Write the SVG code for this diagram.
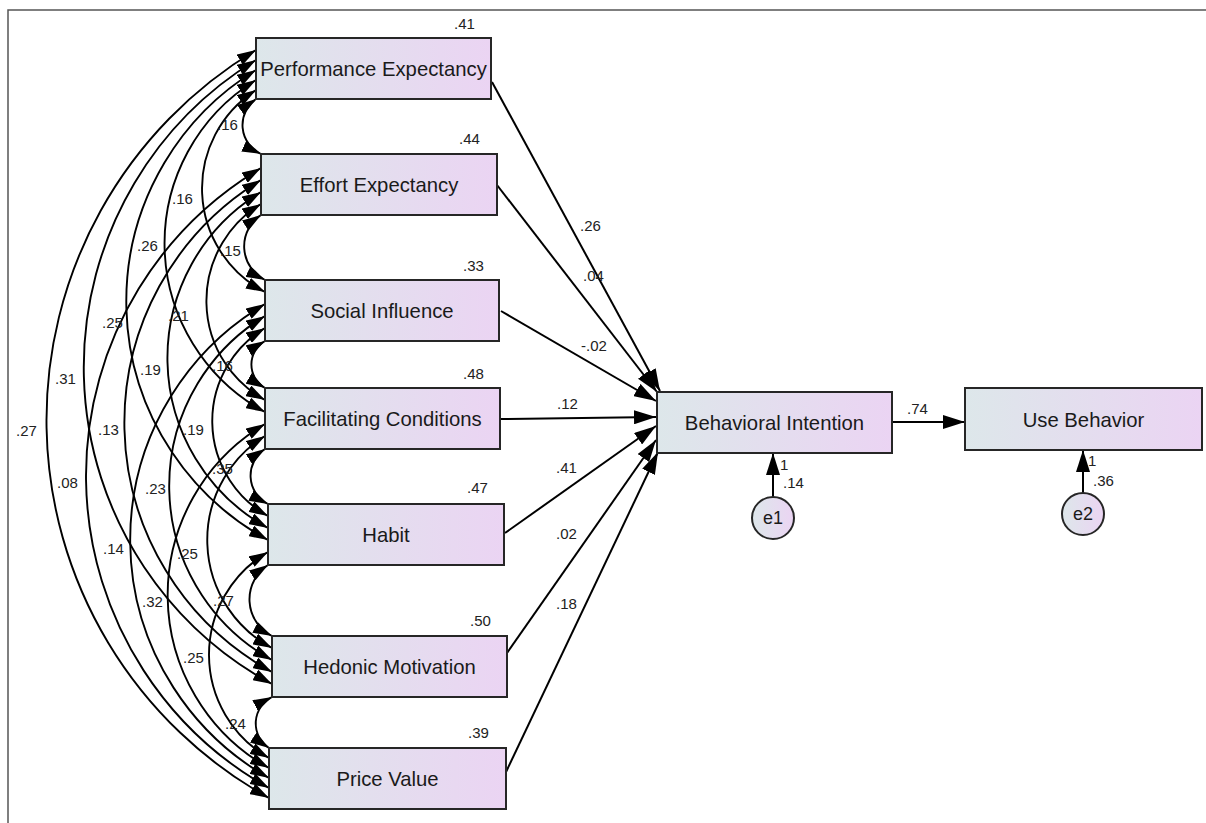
<svg xmlns="http://www.w3.org/2000/svg" width="1206" height="823" viewBox="0 0 1206 823">
<defs>
<linearGradient id="g" x1="0" y1="0" x2="1" y2="0">
<stop offset="0" stop-color="#dde7ea"/>
<stop offset="1" stop-color="#ebd4f3"/>
</linearGradient>
<marker id="ah" viewBox="0 0 22 14" markerWidth="22" markerHeight="14" refX="22" refY="7" orient="auto-start-reverse" markerUnits="userSpaceOnUse">
<path d="M0,0 L22,7 L0,14 z" fill="#000"/>
</marker>
<marker id="ac" viewBox="0 0 19 12" markerWidth="19" markerHeight="12" refX="19" refY="6" orient="auto-start-reverse" markerUnits="userSpaceOnUse">
<path d="M0,0 L19,6 L0,12 z" fill="#000"/>
</marker>
<style>
.box{fill:url(#g);stroke:#262626;stroke-width:2}
.lbl{font-family:"Liberation Sans",Arial,sans-serif;font-size:20.3px;fill:#1a1a1a;text-anchor:middle}
.num{font-family:"Liberation Sans",Arial,sans-serif;font-size:15px;fill:#222}
.cov{fill:none;stroke:#000;stroke-width:1.9;marker-start:url(#ac);marker-end:url(#ac)}
.path{fill:none;stroke:#000;stroke-width:2;marker-end:url(#ah)}
</style>
</defs>
<rect width="1206" height="823" fill="#fff"/>
<path d="M8,823 L8,10 L1206,10" fill="none" stroke="#555" stroke-width="1.5"/>

<g id="connectors">
<path class="cov" d="M256,99 A31.9,31.9 0 0 0 261,154"/>
<path class="cov" d="M256,90 A116.7,116.7 0 0 0 265,292"/>
<path class="cov" d="M256,80 A191.7,191.7 0 0 0 265,412"/>
<path class="cov" d="M256,70 A271.5,271.5 0 0 0 268,540"/>
<path class="cov" d="M256,60 A360.4,360.4 0 0 0 272,684"/>
<path class="cov" d="M256,50 A431.9,431.9 0 0 0 269,798"/>
<path class="cov" d="M261,215 A37.6,37.6 0 0 0 265,280"/>
<path class="cov" d="M261,204 A113.2,113.2 0 0 0 265,400"/>
<path class="cov" d="M261,192 A194,194 0 0 0 268,528"/>
<path class="cov" d="M261,180 A284.1,284.1 0 0 0 272,672"/>
<path class="cov" d="M261,168 A358,358 0 0 0 269,788"/>
<path class="cov" d="M265,341 A27.1,27.1 0 0 0 265,388"/>
<path class="cov" d="M265,328 A108.6,108.6 0 0 0 268,516"/>
<path class="cov" d="M265,316 A198.7,198.7 0 0 0 272,660"/>
<path class="cov" d="M265,304 A273.7,273.7 0 0 0 269,778"/>
<path class="cov" d="M265,449 A31.8,31.8 0 0 0 268,504"/>
<path class="cov" d="M265,436 A122.5,122.5 0 0 0 272,648"/>
<path class="cov" d="M265,424 A198.6,198.6 0 0 0 269,768"/>
<path class="cov" d="M268,565 A41.1,41.1 0 0 0 272,636"/>
<path class="cov" d="M268,552 A118.9,118.9 0 0 0 269,758"/>
<path class="cov" d="M272,697 A29.5,29.5 0 0 0 269,748"/>

<path class="path" d="M492,82 L660,391"/>
<path class="path" d="M497,185 L657,392"/>
<path class="path" d="M501,311 L656,401"/>
<path class="path" d="M501,419 L656,417"/>
<path class="path" d="M505,533 L656,426"/>
<path class="path" d="M507,653 L656,440"/>
<path class="path" d="M506,772 L658,452"/>
<path class="path" d="M892,422 L965,422"/>
<path class="path" d="M773,497 L773,453"/>
<path class="path" d="M1083,493 L1083,450"/>

<text class="num" x="217" y="130">.16</text>
<text class="num" x="172" y="204">.16</text>
<text class="num" x="137" y="251">.26</text>
<text class="num" x="220" y="256">.15</text>
<text class="num" x="102" y="328">.25</text>
<text class="num" x="168" y="321">.21</text>
<text class="num" x="55" y="384">.31</text>
<text class="num" x="140" y="375">.19</text>
<text class="num" x="212" y="371">.16</text>
<text class="num" x="16" y="436">.27</text>
<text class="num" x="98" y="435">.13</text>
<text class="num" x="183" y="435">.19</text>
<text class="num" x="212" y="474">.35</text>
<text class="num" x="57" y="488">.08</text>
<text class="num" x="145" y="494">.23</text>
<text class="num" x="103" y="554">.14</text>
<text class="num" x="177" y="559">.25</text>
<text class="num" x="142" y="607">.32</text>
<text class="num" x="213" y="606">.27</text>
<text class="num" x="183" y="663">.25</text>
<text class="num" x="225" y="729">.24</text>

<text class="num" x="580" y="231">.26</text>
<text class="num" x="583" y="281">.04</text>
<text class="num" x="581" y="351">-.02</text>
<text class="num" x="557" y="409">.12</text>
<text class="num" x="556" y="473">.41</text>
<text class="num" x="556" y="539">.02</text>
<text class="num" x="556" y="609">.18</text>
<text class="num" x="907" y="414">.74</text>
<text class="num" x="780" y="470">1</text>
<text class="num" x="783" y="488">.14</text>
<text class="num" x="1088" y="466">1</text>
<text class="num" x="1093" y="486">.36</text>
</g>

<g id="pe"><rect class="box" x="256" y="38" width="235" height="61"/><text class="lbl" x="373.5" y="76">Performance Expectancy</text><text class="num" x="454" y="29">.41</text></g>
<g id="ee"><rect class="box" x="261" y="154" width="236" height="61"/><text class="lbl" x="379" y="192">Effort Expectancy</text><text class="num" x="459" y="144">.44</text></g>
<g id="si"><rect class="box" x="265" y="280" width="234" height="61"/><text class="lbl" x="382" y="318">Social Influence</text><text class="num" x="463" y="271">.33</text></g>
<g id="fc"><rect class="box" x="265" y="388" width="235" height="61"/><text class="lbl" x="382.5" y="426">Facilitating Conditions</text><text class="num" x="463" y="379">.48</text></g>
<g id="hb"><rect class="box" x="268" y="504" width="236" height="61"/><text class="lbl" x="386" y="542">Habit</text><text class="num" x="467" y="493">.47</text></g>
<g id="hm"><rect class="box" x="272" y="636" width="235" height="61"/><text class="lbl" x="389.5" y="674">Hedonic Motivation</text><text class="num" x="470" y="626">.50</text></g>
<g id="pv"><rect class="box" x="269" y="748" width="237" height="61"/><text class="lbl" x="387.5" y="786">Price Value</text><text class="num" x="468" y="738">.39</text></g>
<g id="bi"><rect class="box" x="657" y="392" width="235" height="61"/><text class="lbl" x="774.5" y="430">Behavioral Intention</text></g>
<g id="ub"><rect class="box" x="965" y="388" width="237" height="62"/><text class="lbl" x="1083.5" y="427">Use Behavior</text></g>
<g id="e1"><circle cx="773" cy="518" r="21" fill="url(#g)" stroke="#262626" stroke-width="2"/><text class="lbl" x="773" y="524" style="font-size:18px">e1</text></g>
<g id="e2"><circle cx="1083" cy="514" r="21" fill="url(#g)" stroke="#262626" stroke-width="2"/><text class="lbl" x="1083" y="520" style="font-size:18px">e2</text></g>
</svg>
